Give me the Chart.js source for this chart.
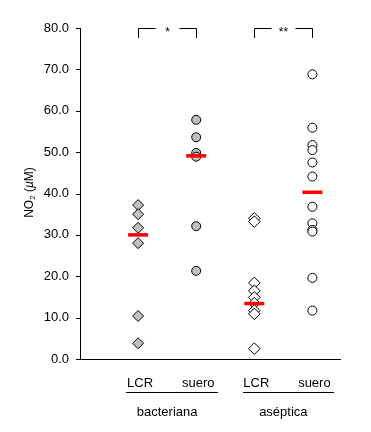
<!DOCTYPE html>
<html>
<head>
<meta charset="utf-8">
<script src="https://cdn.jsdelivr.net/npm/chart.js@4/dist/chart.umd.min.js"></script>
<style>
  body { margin: 0; background: #fff; }
  canvas { display: block; }
</style>
</head>
<body>
<canvas id="no2Chart" width="371" height="432"></canvas>
<script>
// categories along x (positions 1..4) and the two groups underneath
const categories = ["LCR", "suero", "LCR", "suero"];
const groups = ["bacteriana", "aséptica"];

// NO2 (uM) values
const bactLCR = [37.2, 35.0, 31.7, 28.0, 10.4, 3.8];
const bactSuero = [57.8, 53.6, 49.8, 48.9, 32.1, 21.3];
const asepLCR = [34.0, 33.2, 18.4, 16.5, 14.9, 13.5, 11.7, 10.9, 2.5];
const asepSuero = [68.8, 55.9, 51.7, 50.5, 47.5, 44.1, 36.8, 32.8, 31.2, 30.8, 19.6, 11.7];
const medians = [30.0, 49.1, 13.4, 40.3];

const yTicks = [0, 10, 20, 30, 40, 50, 60, 70, 80];

// significance brackets
const bracketFrom = [1, 3];
const bracketTo = [2, 4];
const bracketLabels = ["*", "**"];

const font = "Liberation Sans, Arial, sans-serif";

const toPoints = (vals, pos) => vals.map((v) => ({ x: pos, y: v }));

const markerDataset = (vals, pos, style, fill, radius) => ({
  data: toPoints(vals, pos),
  pointStyle: style,
  pointRadius: radius,
  backgroundColor: fill,
  borderColor: "#000",
  borderWidth: 1,
  showLine: false,
});

const axisTextPlugin = {
  id: "axisText",
  afterDraw(chart) {
    const { ctx, scales } = chart;
    const x = scales.x;
    const y = scales.y;
    ctx.save();
    ctx.fillStyle = "#000";
    ctx.strokeStyle = "#000";
    ctx.lineWidth = 1;

    // y tick marks outside the axis
    yTicks.forEach((v) => {
      const py = Math.round(y.getPixelForValue(v)) + 0.5;
      ctx.beginPath();
      ctx.moveTo(y.right - 4, py);
      ctx.lineTo(y.right, py);
      ctx.stroke();
    });

    // category labels
    ctx.font = "13px " + font;
    ctx.textAlign = "center";
    ctx.textBaseline = "alphabetic";
    categories.forEach((c, i) => {
      ctx.fillText(c, x.getPixelForValue(i + 1) + 2, 387);
    });

    // group underlines and names
    groups.forEach((g, i) => {
      const first = i * 2 + 1;
      const last = first + 1;
      const x0 = Math.round(x.getPixelForValue(first - 0.2));
      const x1 = Math.round(x.getPixelForValue(last + 0.37));
      ctx.beginPath();
      ctx.moveTo(x0, 392.5);
      ctx.lineTo(x1, 392.5);
      ctx.stroke();
      ctx.fillText(g, x.getPixelForValue((first + last) / 2), 416);
    });

    // brackets
    ctx.font = "12px " + font;
    bracketLabels.forEach((lab, i) => {
      const xa = Math.round(x.getPixelForValue(bracketFrom[i])) + 0.5;
      const xb = Math.round(x.getPixelForValue(bracketTo[i])) + 0.5;
      const yt = Math.round(y.getPixelForValue(80)) + 0.5;
      const yb = Math.round(y.getPixelForValue(77.5));
      const xc = (xa + xb) / 2;
      ctx.beginPath();
      ctx.moveTo(xa, yb);
      ctx.lineTo(xa, yt);
      ctx.lineTo(xc - 12, yt);
      ctx.moveTo(xc + 12, yt);
      ctx.lineTo(xb, yt);
      ctx.lineTo(xb, yb);
      ctx.stroke();
      ctx.fillText(lab, xc, yt + 7);
    });

    // y axis title: NO2 (uM) with subscript and italic mu
    const parts = [
      { t: "NO", f: "12px " + font, dy: 0 },
      { t: "2", f: "8px " + font, dy: 2 },
      { t: " (", f: "12px " + font, dy: 0 },
      { t: "\u00b5", f: "italic 12px " + font, dy: 0 },
      { t: "M)", f: "12px " + font, dy: 0 },
    ];
    let total = 0;
    parts.forEach((p) => {
      ctx.font = p.f;
      p.w = ctx.measureText(p.t).width;
      total += p.w;
    });
    ctx.translate(33, 192.5);
    ctx.rotate(-Math.PI / 2);
    ctx.textAlign = "left";
    let cx = -total / 2;
    parts.forEach((p) => {
      ctx.font = p.f;
      ctx.fillText(p.t, cx, p.dy);
      cx += p.w;
    });
    ctx.restore();
  },
};

const no2Config = {
  type: "scatter",
  data: {
    datasets: [
      {
        data: medians.map((m, i) => ({ x: i + 1, y: m })),
        pointStyle: "line",
        pointRadius: 10,
        borderColor: "#ff0000",
        borderWidth: 3.5,
        showLine: false,
      },
      markerDataset(bactLCR, 1, "rectRot", "#c0c0c0", 5.5),
      markerDataset(bactSuero, 2, "circle", "#c0c0c0", 4.5),
      markerDataset(asepLCR, 3, "rectRot", "#ffffff", 5.8),
      markerDataset(asepSuero, 4, "circle", "#ffffff", 4.5),
    ],
  },
  options: {
    responsive: false,
    animation: false,
    layout: { padding: { top: 28, right: 31, left: 0, bottom: 0 } },
    plugins: {
      legend: { display: false },
      tooltip: { enabled: false },
    },
    scales: {
      x: {
        type: "linear",
        min: 0,
        max: 4.475,
        ticks: { display: false },
        grid: { display: false },
        border: { color: "#000", width: 1 },
        afterFit(scale) {
          scale.height = 73;
        },
      },
      y: {
        min: 0,
        max: 80,
        afterBuildTicks(scale) {
          scale.ticks = yTicks.map((v) => ({ value: v }));
        },
        ticks: {
          padding: 7,
          color: "#000",
          font: { family: font, size: 13 },
          callback: (v) => Number(v).toFixed(1),
        },
        grid: { display: false, tickLength: 4 },
        border: { color: "#000", width: 1 },
        afterFit(scale) {
          scale.width = 80;
        },
      },
    },
  },
  plugins: [axisTextPlugin],
};

new Chart(document.getElementById("no2Chart"), no2Config);
</script>
</body>
</html>
